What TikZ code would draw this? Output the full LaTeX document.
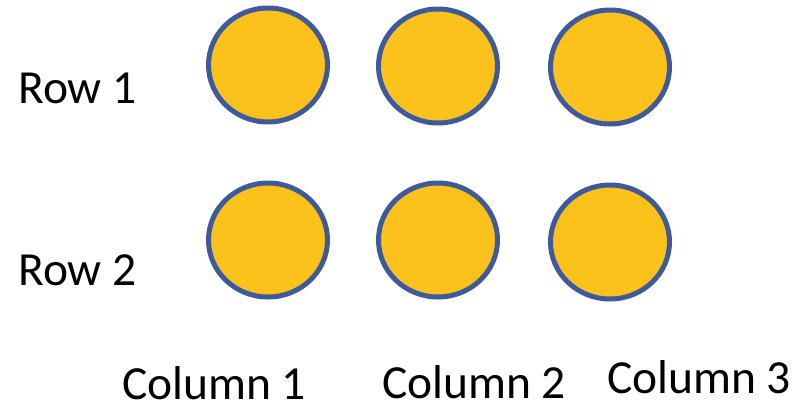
\documentclass[tikz,border=0pt]{standalone}
\usepackage{fontspec}
\setmainfont{Carlito}
\usetikzlibrary{shapes.geometric}
\definecolor{dotfill}{HTML}{FDC11C}
\definecolor{dotline}{HTML}{3E5A9A}
\begin{document}
\begin{tikzpicture}[x=1pt,y=-1pt,
  dot/.style={ellipse,draw=dotline,line width=5pt,fill=dotfill,minimum width=119pt,minimum height=114pt,inner sep=0pt},
  lbl/.style={anchor=base west,inner sep=0pt,font=\fontsize{47.5}{52}\selectfont}]
\path[use as bounding box] (0,0) rectangle (800,410);
\node[dot] (a1) at (268,65) {};
\node[dot] (a2) at (438,66) {};
\node[dot] (a3) at (610,67) {};
\node[dot] (b1) at (268,240) {};
\node[dot] (b2) at (438,240) {};
\node[dot] (b3) at (610,242) {};
\node[lbl] (r1) at (18,103) {Row 1};
\node[lbl] (r2) at (18,285) {Row 2};
\node[lbl] (c1) at (122,399) {Column 1};
\node[lbl] (c2) at (382,398) {Column 2};
\node[lbl] (c3) at (607,393) {Column 3};
\end{tikzpicture}
\end{document}
